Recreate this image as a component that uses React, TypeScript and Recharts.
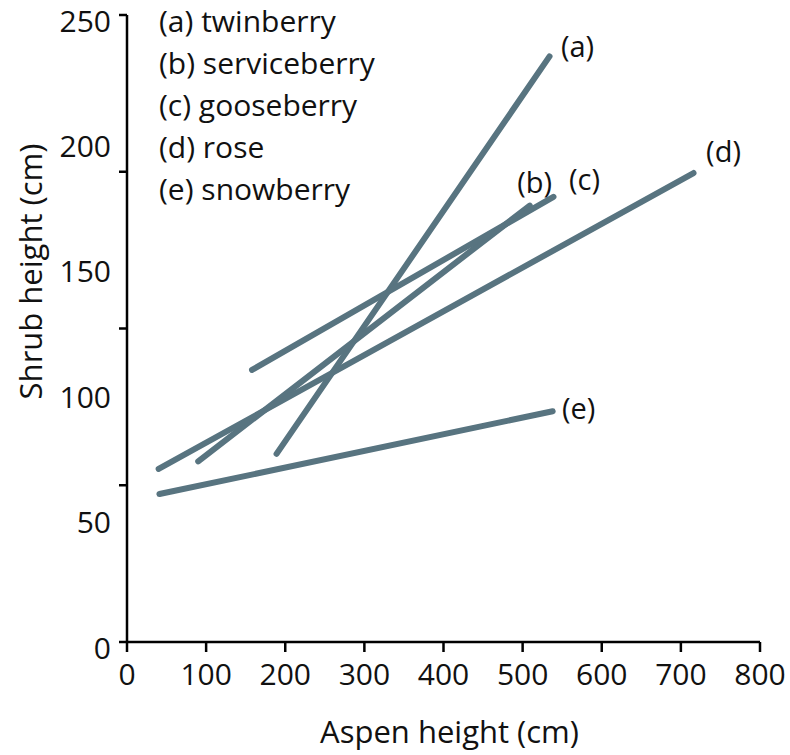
import React from 'react';
import { LineChart, Line, XAxis, YAxis, LabelList } from 'recharts';

// Series end points (Aspen height cm -> Shrub height cm)
const seriesTags = ['(a)', '(b)', '(c)', '(d)', '(e)'];
const aspenA = [189, 534];
const shrubA = [75, 233.5];
const aspenB = [90, 509];
const shrubB = [72, 174];
const aspenC = [158, 539];
const shrubC = [108.5, 177.5];
const aspenD = [40, 716];
const shrubD = [69, 187];
const aspenE = [41, 538];
const shrubE = [59, 92];

const legendLines = ['(a) twinberry', '(b) serviceberry', '(c) gooseberry', '(d) rose', '(e) snowberry'];
const xTicks = [0, 100, 200, 300, 400, 500, 600, 700, 800];
const yLabelTicks = [0, 50, 100, 150, 200, 250];
const yMarkTicks = [0, 62.5, 125, 187.5, 250];

// label offsets relative to each line's end (style)
const tagOffsets = [
  [28, -11],
  [5, -24],
  [31, -18],
  [30, -23],
  [26, -4],
];

const FONT = '"Open Sans", sans-serif';
const LINE_COLOR = '#587480';
const TICK_FS = 30;
const TITLE_FS = 31;

const build = (xs: number[], ys: number[]) => xs.map((x, i) => ({ x, y: ys[i] }));
const seriesData = [
  build(aspenA, shrubA),
  build(aspenB, shrubB),
  build(aspenC, shrubC),
  build(aspenD, shrubD),
  build(aspenE, shrubE),
];

const makeTag = (si: number) => (props: any) => {
  const { x, y, index } = props;
  if (index !== seriesData[si].length - 1) return null;
  return (
    <text
      x={x + tagOffsets[si][0]}
      y={y + tagOffsets[si][1]}
      textAnchor="middle"
      dominantBaseline="central"
      fontSize={29}
      fontFamily={FONT}
      fill="#111"
    >
      {seriesTags[si]}
    </text>
  );
};

export default function App() {
  return (
    <div style={{ position: 'absolute', left: 0, top: 0, width: 790, height: 755, background: '#fff', fontFamily: FONT }}>
      <LineChart width={790} height={755} margin={{ top: 15, right: 30, bottom: 0, left: 0 }}>
        <XAxis
          type="number"
          dataKey="x"
          domain={[0, 800]}
          ticks={xTicks}
          interval={0}
          allowDataOverflow
          height={113}
          tickSize={10}
          tickMargin={12}
          axisLine={{ stroke: '#000', strokeWidth: 2.5 }}
          tickLine={{ stroke: '#000', strokeWidth: 2.5 }}
          tick={{ fontSize: TICK_FS, fill: '#111', fontFamily: FONT }}
          label={{ value: 'Aspen height (cm)', position: 'insideBottom', offset: 12, dx: 6, fontSize: TITLE_FS, fill: '#111', fontFamily: FONT }}
        />
        <YAxis
          yAxisId="axisA"
          type="number"
          domain={[0, 250]}
          ticks={yMarkTicks}
          interval={0}
          allowDataOverflow
          width={12}
          tickSize={8}
          tickFormatter={() => ''}
          axisLine={{ stroke: '#000', strokeWidth: 2.5 }}
          tickLine={{ stroke: '#000', strokeWidth: 2.5 }}
        />
        <YAxis
          yAxisId="axisB"
          type="number"
          domain={[0, 250]}
          ticks={yLabelTicks}
          interval={0}
          allowDataOverflow
          width={115}
          tickSize={0}
          tickMargin={4}
          axisLine={false}
          tickLine={false}
          tick={{ fontSize: TICK_FS, fill: '#111', fontFamily: FONT, dy: 6 }}
          label={{
            content: (p: any) => {
              const vb = p.viewBox || { x: 0, y: 0, width: 0, height: 0 };
              const cx = vb.x + 30;
              const cy = vb.y + vb.height / 2 - 57;
              return (
                <text
                  x={cx}
                  y={cy}
                  transform={`rotate(-90, ${cx}, ${cy})`}
                  textAnchor="middle"
                  dominantBaseline="central"
                  fontSize={TITLE_FS}
                  fontFamily={FONT}
                  fill="#111"
                >
                  Shrub height (cm)
                </text>
              );
            },
          }}
        />
        {seriesData.map((d, si) => (
          <Line
            key={seriesTags[si]}
            yAxisId="axisA"
            data={d}
            dataKey="y"
            type="linear"
            stroke={LINE_COLOR}
            strokeWidth={6}
            strokeLinecap="round"
            dot={false}
            activeDot={false}
            isAnimationActive={false}
          >
            <LabelList dataKey="y" content={makeTag(si)} />
          </Line>
        ))}
      </LineChart>
      <div
        style={{
          position: 'absolute',
          left: 159,
          top: 0,
          fontSize: 30,
          lineHeight: '42px',
          color: '#111',
          fontFamily: FONT,
          whiteSpace: 'nowrap',
        }}
      >
        {legendLines.map((t) => (
          <div key={t}>{t}</div>
        ))}
      </div>
    </div>
  );
}
